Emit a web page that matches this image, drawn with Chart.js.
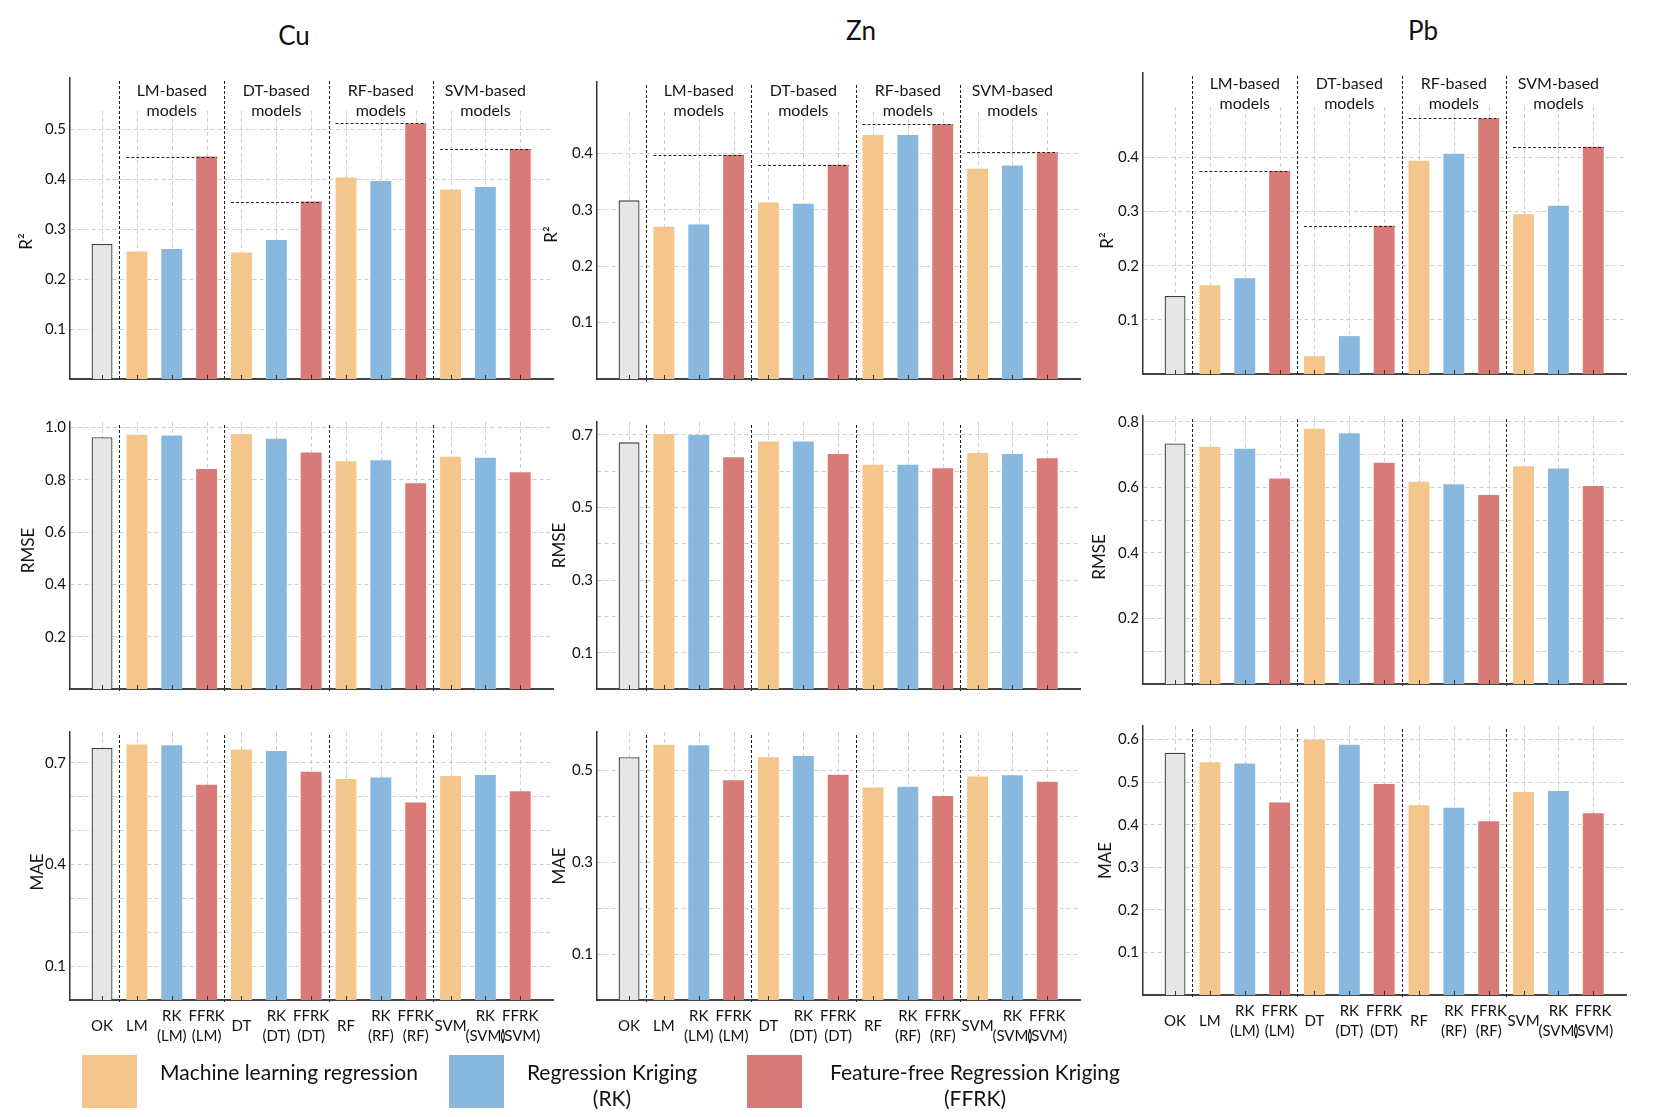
<!DOCTYPE html>
<html>
<head>
<meta charset="utf-8">
<script src="https://cdn.jsdelivr.net/npm/chart.js@4.4.0/dist/chart.umd.min.js"></script>
<style>
  body { margin: 0; background: #fff; font-family: Lato, "Open Sans", sans-serif; }
  #page { position: relative; width: 1660px; height: 1117px; overflow: hidden; }
  .panel { position: absolute; }
  .title { position: absolute; font-size: 26px; color: #111; transform: translate(-50%, -50%); }
  .swatch { position: absolute; width: 55px; height: 53px; }
  .ltext { position: absolute; font-size: 21px; color: #111; text-align: center; line-height: 26px;
           transform: translate(-50%, -13px); white-space: nowrap; }
</style>
</head>
<body>
<div id="page"></div>
<script>
// categories (x axis), one bar each
const categories = [
  ['OK'], ['LM'], ['RK', '(LM)'], ['FFRK', '(LM)'],
  ['DT'], ['RK', '(DT)'], ['FFRK', '(DT)'],
  ['RF'], ['RK', '(RF)'], ['FFRK', '(RF)'],
  ['SVM'], ['RK', '(SVM)'], ['FFRK', '(SVM)']
];
const methodKind = ['OK', 'ML', 'RK', 'FFRK', 'ML', 'RK', 'FFRK', 'ML', 'RK', 'FFRK', 'ML', 'RK', 'FFRK'];
const groupTitles = [['LM-based', 'models'], ['DT-based', 'models'], ['RF-based', 'models'], ['SVM-based', 'models']];
const elements = ['Cu', 'Zn', 'Pb'];
const metricNames = ['R²', 'RMSE', 'MAE'];
const legendLabels = [['Machine learning regression'], ['Regression Kriging', '(RK)'], ['Feature-free Regression Kriging', '(FFRK)']];

// values
const cuR2   = [0.270, 0.255, 0.260, 0.445, 0.253, 0.278, 0.355, 0.403, 0.396, 0.511, 0.379, 0.384, 0.460];
const cuRMSE = [0.963, 0.972, 0.969, 0.841, 0.975, 0.957, 0.904, 0.871, 0.875, 0.787, 0.888, 0.884, 0.829];
const cuMAE  = [0.744, 0.754, 0.752, 0.635, 0.739, 0.735, 0.674, 0.652, 0.657, 0.583, 0.661, 0.664, 0.616];
const znR2   = [0.317, 0.270, 0.274, 0.398, 0.313, 0.311, 0.380, 0.433, 0.433, 0.452, 0.373, 0.379, 0.402];
const znRMSE = [0.679, 0.702, 0.699, 0.638, 0.681, 0.681, 0.647, 0.617, 0.617, 0.608, 0.650, 0.647, 0.635];
const znMAE  = [0.528, 0.555, 0.554, 0.478, 0.528, 0.531, 0.490, 0.462, 0.464, 0.444, 0.486, 0.489, 0.475];
const pbR2   = [0.144, 0.164, 0.177, 0.375, 0.033, 0.070, 0.274, 0.394, 0.407, 0.472, 0.295, 0.311, 0.420];
const pbRMSE = [0.734, 0.724, 0.718, 0.627, 0.779, 0.765, 0.675, 0.617, 0.610, 0.577, 0.665, 0.658, 0.604];
const pbMAE  = [0.569, 0.547, 0.544, 0.452, 0.600, 0.588, 0.496, 0.446, 0.440, 0.408, 0.477, 0.479, 0.427];

// gridline values and the ones that carry a label
const cuR2Grid = [0.1, 0.2, 0.3, 0.4, 0.5],                 cuR2Ticks = [0.1, 0.2, 0.3, 0.4, 0.5];
const cuRMSEGrid = [0.2, 0.4, 0.6, 0.8, 1.0],               cuRMSETicks = [0.2, 0.4, 0.6, 0.8, 1.0];
const cuMAEGrid = [0.1, 0.2, 0.3, 0.4, 0.5, 0.6, 0.7],      cuMAETicks = [0.1, 0.4, 0.7];
const znR2Grid = [0.1, 0.2, 0.3, 0.4],                      znR2Ticks = [0.1, 0.2, 0.3, 0.4];
const znRMSEGrid = [0.1, 0.2, 0.3, 0.4, 0.5, 0.6, 0.7],     znRMSETicks = [0.1, 0.3, 0.5, 0.7];
const znMAEGrid = [0.1, 0.2, 0.3, 0.4, 0.5],                znMAETicks = [0.1, 0.3, 0.5];
const pbR2Grid = [0.1, 0.2, 0.3, 0.4],                      pbR2Ticks = [0.1, 0.2, 0.3, 0.4];
const pbRMSEGrid = [0.1, 0.2, 0.3, 0.4, 0.5, 0.6, 0.7, 0.8], pbRMSETicks = [0.2, 0.4, 0.6, 0.8];
const pbMAEGrid = [0.1, 0.2, 0.3, 0.4, 0.5, 0.6],           pbMAETicks = [0.1, 0.2, 0.3, 0.4, 0.5, 0.6];

const kindColor = { OK: '#e5e6e8', ML: '#f4c68b', RK: '#89b8de', FFRK: '#d87b76' };
const FONT = 'Lato, "Open Sans", sans-serif';

// box = [left, top, right, bottom] of the plot area on the page
const panels = [
  { el: 0, m: 0, values: cuR2,   grid: cuR2Grid,   ticks: cuR2Ticks,   max: 0.602, box: [70, 78, 553, 379],   ref: true, vTop: 33, groupY: 13, tdx: 43, tdy: 13 },
  { el: 0, m: 1, values: cuRMSE, grid: cuRMSEGrid, ticks: cuRMSETicks, max: 1.021, box: [70, 422, 553, 689],  vTop: 0, tdx: 41, tdy: -5 },
  { el: 0, m: 2, values: cuMAE,  grid: cuMAEGrid,  ticks: cuMAETicks,  max: 0.791, box: [70, 732, 553, 1000], vTop: 0, tdx: 32, tdy: 6, bottom: true },
  { el: 1, m: 0, values: znR2,   grid: znR2Grid,   ticks: znR2Ticks,   max: 0.527, box: [597, 82, 1080, 379],  ref: true, vTop: 30, groupY: 9, tdx: 45, tdy: 4 },
  { el: 1, m: 1, values: znRMSE, grid: znRMSEGrid, ticks: znRMSETicks, max: 0.735, box: [597, 422, 1080, 689], vTop: 0, tdx: 37, tdy: -10 },
  { el: 1, m: 2, values: znMAE,  grid: znMAEGrid,  ticks: znMAETicks,  max: 0.583, box: [597, 732, 1080, 1000], vTop: 0, tdx: 37, tdy: 0, bottom: true },
  { el: 2, m: 0, values: pbR2,   grid: pbR2Grid,   ticks: pbR2Ticks,   max: 0.556, box: [1143, 73, 1626, 374],  ref: true, vTop: 34, groupY: 11, tdx: 35, tdy: 17 },
  { el: 2, m: 1, values: pbRMSE, grid: pbRMSEGrid, ticks: pbRMSETicks, max: 0.818, box: [1143, 416, 1626, 684], vTop: 0, tdx: 43, tdy: 7 },
  { el: 2, m: 2, values: pbMAE,  grid: pbMAEGrid,  ticks: pbMAETicks,  max: 0.632, box: [1143, 726, 1626, 995], vTop: 0, tdx: 37, tdy: 0, bottom: true }
];

const page = document.getElementById('page');

function decor(p) {
  return {
    id: 'decor',
    beforeDatasetsDraw(chart) {
      const { ctx, chartArea: a, scales: { x } } = chart;
      ctx.save();
      ctx.strokeStyle = '#cfcfcf';
      ctx.lineWidth = 1;
      ctx.setLineDash([4, 3]);
      categories.forEach((c, i) => {
        const px = Math.round(x.getPixelForValue(i)) + 0.5;
        ctx.beginPath();
        ctx.moveTo(px, a.top + p.vTop);
        ctx.lineTo(px, a.bottom);
        ctx.stroke();
      });
      ctx.restore();
    },
    afterDatasetsDraw(chart) {
      const { ctx, chartArea: a, scales: { x, y } } = chart;
      const bars = chart.getDatasetMeta(0).data;
      ctx.save();
      // group separators
      ctx.strokeStyle = '#222';
      ctx.lineWidth = 1;
      ctx.setLineDash([3, 2]);
      for (let g = 0; g < 4; g++) {
        const px = Math.round(x.getPixelForValue(0.5 + 3 * g)) + 0.5;
        ctx.beginPath();
        ctx.moveTo(px, a.top + 3);
        ctx.lineTo(px, a.bottom + 2);
        ctx.stroke();
      }
      // FFRK reference lines
      if (p.ref) {
        for (let g = 0; g < 4; g++) {
          const first = bars[1 + 3 * g], last = bars[3 + 3 * g];
          const py = Math.round(y.getPixelForValue(p.values[3 + 3 * g])) + 0.5;
          ctx.beginPath();
          ctx.moveTo(first.x - first.width / 2, py);
          ctx.lineTo(last.x + last.width / 2, py);
          ctx.stroke();
        }
      }
      // little inward ticks
      ctx.setLineDash([]);
      ctx.strokeStyle = '#333';
      bars.forEach(b => {
        ctx.beginPath();
        ctx.moveTo(Math.round(b.x) + 0.5, a.bottom);
        ctx.lineTo(Math.round(b.x) + 0.5, a.bottom - 4);
        ctx.stroke();
      });
      ctx.fillStyle = '#161616';
      ctx.textAlign = 'center';
      ctx.textBaseline = 'middle';
      if (p.ref) {
        ctx.font = '16px ' + FONT;
        groupTitles.forEach((g, k) => {
          const cx = x.getPixelForValue(2 + 3 * k);
          g.forEach((line, j) => ctx.fillText(line, cx, a.top + p.groupY + j * 20));
        });
      }
      // y axis title
      ctx.translate(a.left - p.tdx, (a.top + a.bottom) / 2 + p.tdy);
      ctx.rotate(-Math.PI / 2);
      ctx.font = '17px ' + FONT;
      ctx.fillText(metricNames[p.m], 0, 0);
      ctx.restore();
    }
  };
}

panels.forEach(p => {
  const [L, T, R, B] = p.box;
  const padTop = 8, padRight = 6, yW = 68;
  const xH = p.bottom ? 56 : 6;
  const w = R - L + yW + padRight, h = B - T + padTop + xH;
  const div = document.createElement('div');
  div.className = 'panel';
  div.style.left = (L - yW) + 'px';
  div.style.top = (T - padTop) + 'px';
  const cv = document.createElement('canvas');
  cv.width = w; cv.height = h;
  cv.style.width = w + 'px'; cv.style.height = h + 'px';
  div.appendChild(cv);
  page.appendChild(div);

  new Chart(cv, {
    type: 'bar',
    data: {
      datasets: [{
        data: p.values.map((v, i) => ({ x: i, y: v })),
        backgroundColor: methodKind.map(k => kindColor[k]),
        borderColor: methodKind.map(k => k === 'OK' ? '#3a3a3a' : 'rgba(0,0,0,0)'),
        borderWidth: methodKind.map(k => k === 'OK' ? 1.3 : 0),
        barPercentage: 0.6,
        categoryPercentage: 1.0
      }]
    },
    options: {
      responsive: false,
      animation: false,
      devicePixelRatio: 1,
      layout: { padding: { top: padTop, right: padRight, left: 0, bottom: 0 } },
      plugins: { legend: { display: false }, tooltip: { enabled: false } },
      scales: {
        x: {
          type: 'linear', min: -0.92, max: 12.94, offset: false,
          afterBuildTicks: s => { s.ticks = categories.map((c, i) => ({ value: i })); },
          afterFit: s => { s.height = xH; s.paddingLeft = 0; s.paddingRight = 0; },
          grid: { display: false, drawTicks: false, offset: false },
          border: { display: true, color: '#444', width: 2 },
          ticks: {
            display: !!p.bottom, autoSkip: false, maxRotation: 0, minRotation: 0,
            padding: 16, crossAlign: 'center',
            font: { family: FONT, size: 15, lineHeight: 1.33 }, color: '#111',
            callback: v => categories[v]
          }
        },
        y: {
          min: 0, max: p.max,
          afterBuildTicks: s => { s.ticks = p.grid.map(v => ({ value: v })); },
          afterFit: s => { s.width = yW; s.paddingTop = 0; s.paddingBottom = 0; },
          grid: { color: '#cdcdcd', lineWidth: 1, drawTicks: false },
          border: { display: true, color: '#333', width: 1.5, dash: [4, 3] },
          ticks: {
            padding: 4, font: { family: FONT, size: 15 }, color: '#111',
            callback: v => p.ticks.some(t => Math.abs(t - v) < 1e-6) ? v.toFixed(1) : ''
          }
        }
      }
    },
    plugins: [decor(p)]
  });
});

// element titles
const titlePos = [[294, 35], [861, 30], [1423, 30]];
elements.forEach((e, i) => {
  const d = document.createElement('div');
  d.className = 'title';
  d.textContent = e;
  d.style.left = titlePos[i][0] + 'px';
  d.style.top = titlePos[i][1] + 'px';
  page.appendChild(d);
});

// legend
const legendKinds = ['ML', 'RK', 'FFRK'];
const swatchX = [82, 449, 747];
const textX = [289, 612, 975];
legendKinds.forEach((k, i) => {
  const s = document.createElement('div');
  s.className = 'swatch';
  s.style.left = swatchX[i] + 'px';
  s.style.top = '1055px';
  s.style.background = kindColor[k];
  page.appendChild(s);
  const t = document.createElement('div');
  t.className = 'ltext';
  t.style.left = textX[i] + 'px';
  t.style.top = '1072px';
  t.innerHTML = legendLabels[i].join('<br>');
  page.appendChild(t);
});
</script>
</body>
</html>
